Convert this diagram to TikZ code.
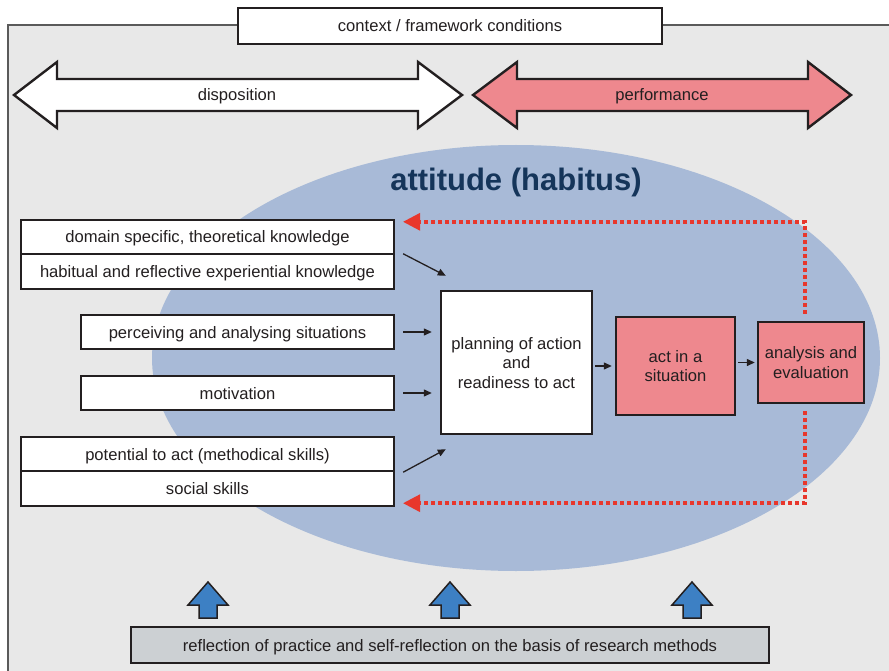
\documentclass[tikz,border=0pt]{standalone}
\usepackage{fontspec}
\setmainfont{Liberation Sans}
\usetikzlibrary{arrows.meta,calc}

\definecolor{bggray}{HTML}{E8E8E8}
\definecolor{framegray}{HTML}{5A5A5A}
\definecolor{habitusblue}{HTML}{A8BAD7}
\definecolor{titleblue}{HTML}{15355A}
\definecolor{actpink}{HTML}{EE888E}
\definecolor{feedred}{HTML}{E8372C}
\definecolor{liftblue}{HTML}{3D80C4}
\definecolor{basegray}{HTML}{CCD0D3}
\definecolor{ink}{HTML}{231F20}

\tikzset{
  lbl/.style={font=\fontsize{16.6}{19.5}\selectfont, text=ink, text height=12pt, text depth=0pt},
  box/.style={lbl, draw=ink, line width=2.4pt, fill=white, inner sep=0pt, align=center},
  pinkbox/.style={box, fill=actpink},
  twolines/.style={text height=31.5pt},
  threelines/.style={text height=51pt},
  bigarrow/.style={draw=ink, line width=2.4pt, line join=miter},
  flow/.style={draw=ink, line width=1.3pt, -{Triangle[length=8pt,width=7pt]}},
  feedback/.style={draw=feedred, line width=3.6pt, dash pattern=on 4pt off 3pt,
    -{Triangle[length=17pt,width=18pt,line width=0pt]}},
  liftarrow/.style={fill=liftblue, draw=ink, line width=1.5pt, line join=miter},
}

\begin{document}
\begin{tikzpicture}[x=1pt,y=-1pt]
\useasboundingbox (0,0) rectangle (889,671);

% framework area
\fill[bggray] (8,25) rectangle (889,671);
\draw[framegray, line width=1.6pt] (889,25) -- (8,25) -- (8,671);

% habitus ellipse
\fill[habitusblue] (516,358) ellipse [x radius=364, y radius=213];

\node[box, minimum width=424pt, minimum height=36pt] (ctx) at (450,26) {context / framework conditions};

% disposition / performance double arrows
\draw[bigarrow, fill=white] (14,95) -- (57,62) -- (57,79) -- (418,79) -- (418,62) -- (462,95)
  -- (418,128) -- (418,111) -- (57,111) -- (57,128) -- cycle;
\node[lbl] (disp) at (237,95) {disposition};
\draw[bigarrow, fill=actpink] (473,95) -- (517,62) -- (517,79) -- (808,79) -- (808,62) -- (851,95)
  -- (808,128) -- (808,111) -- (517,111) -- (517,128) -- cycle;
\node[lbl] (perf) at (662,95) {performance};

\node[font=\fontsize{31}{36}\selectfont\bfseries, text=titleblue, text height=22.3pt, text depth=0pt]
  (title) at (516,179) {attitude (habitus)};

% resources
\node[box, minimum width=373pt, minimum height=34pt] (dom) at (207.5,237) {domain specific, theoretical knowledge};
\node[box, minimum width=373pt, minimum height=35pt] (hab) at (207.5,271.5) {habitual and reflective experiential knowledge};
\node[box, minimum width=313pt, minimum height=34pt] (per) at (237.5,332) {perceiving and analysing situations};
\node[box, minimum width=313pt, minimum height=34pt] (mot) at (237.5,393) {motivation};
\node[box, minimum width=373pt, minimum height=34pt] (pot) at (207.5,454) {potential to act (methodical skills)};
\node[box, minimum width=373pt, minimum height=35pt] (soc) at (207.5,488.5) {social skills};

% action chain
\node[box, threelines, minimum width=151pt, minimum height=143pt] (plan) at (516.5,362.5) {planning of action\\and\\readiness to act};
\node[pinkbox, twolines, minimum width=119pt, minimum height=98pt] (act) at (675.5,366) {act in a\\situation};
\node[pinkbox, twolines, minimum width=106pt, minimum height=81pt] (ana) at (811,362.5) {analysis and\\evaluation};

% inputs into planning
\draw[flow] ($(hab.north east)+(8,1)$) -- ($(plan.north west)+(6,-14)$);
\draw[flow] ($(per.east)+(8,0)$) -- ($(plan.west |- per.east)+(-8,0)$);
\draw[flow] ($(mot.east)+(8,0)$) -- ($(plan.west |- mot.east)+(-8,0)$);
\draw[flow] ($(pot.south east)+(8,0)$) -- ($(plan.south west)+(6,14)$);
\draw[flow] ($(plan.east |- act.west)+(2,0)$) -- ($(act.west)+(-3,0)$);
\draw[flow] ($(act.east |- ana.west)+(2,0)$) -- ($(ana.west)+(-2,0)$);

% feedback loops
\draw[feedback] ($(ana.north)+(-6,-7)$) |- ($(dom.north east)+(8,3)$);
\draw[feedback] ($(ana.south)+(-6,7)$) |- ($(soc.south east)+(8,-4)$);

% reflection basis
\node[box, fill=basegray, minimum width=638pt, minimum height=36pt] (refl) at (450,645)
  {reflection of practice and self-reflection on the basis of research methods};
\foreach \ax in {208,450,692}
  \draw[liftarrow] (\ax,582) -- (\ax+20,605) -- (\ax+9,605) -- (\ax+9,618)
    -- (\ax-9,618) -- (\ax-9,605) -- (\ax-20,605) -- cycle;
\end{tikzpicture}
\end{document}
